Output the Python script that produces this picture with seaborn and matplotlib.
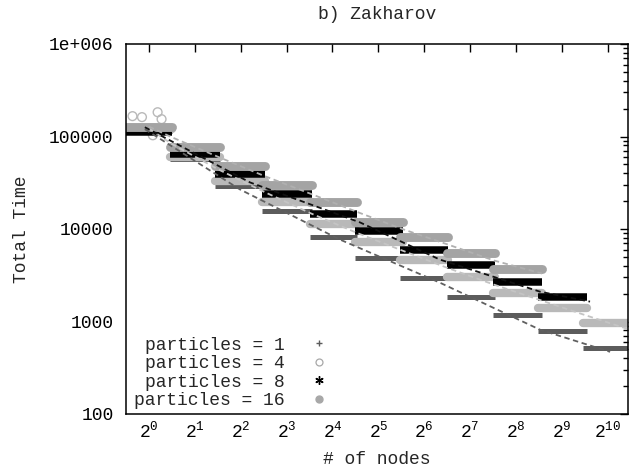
import matplotlib
matplotlib.use("Agg")
import matplotlib.pyplot as plt
import seaborn as sns
import pandas as pd
from matplotlib.lines import Line2D
from matplotlib.ticker import FixedLocator, FixedFormatter, LogLocator, NullFormatter, NullLocator

# bornes (en noeuds) de chaque palier
seg_start = [0.68, 1.37, 2.71, 5.51, 11.4, 22.5, 44.3, 90.3, 181, 357, 704]
seg_end = [1.41, 2.92, 5.76, 11.7, 23.2, 46.4, 91.6, 186, 379, 750, 1430]

# temps total par palier
time_p1 = [114000, 56700, 28900, 15500, 8290, 4900, 2980, 1855, 1180, 794, 519]
time_p4 = [120000, 59600, 32700, 19400, 11200, 7320, 4670, 3050, 2050, 1410, 968]
time_p8 = [113000, 64300, 39000, 23700, 14700, 9400, 6000, 4120, 2700, 1855]
time_p16 = [128000, 76400, 47600, 29700, 19400, 12050, 8290, 5560, 3730]

# quelques points isoles (particles = 4) au debut
out_p4_x = [0.78, 0.90, 1.14, 1.06, 1.21]
out_p4_y = [166000, 162000, 183000, 103000, 154000]

# courbes d'ajustement (pointilles)
fit_p1_x = [0.94, 3.95, 17.9, 81, 368, 1060]
fit_p1_y = [120000, 26800, 7690, 2630, 815, 470]
fit_p4_x = [1.0, 1.39, 2.84, 5.7, 11.6, 23.2, 45.9, 91.5, 184, 370, 730, 1430]
fit_p4_y = [122000, 84500, 44200, 25200, 14700, 9060, 5850, 3780, 2500, 1700, 1170, 815]
fit_p8_x = [0.94, 4.6, 24.2, 81, 368, 783]
fit_p8_y = [126000, 31900, 11800, 4670, 2100, 1640]
fit_p16_x = [1.0, 1.39, 2.84, 5.7, 11.6, 23.2, 45.9, 91.5, 184, 379]
fit_p16_y = [128000, 99300, 60300, 37500, 23900, 15300, 10000, 6790, 4560, 3300]

labels = ["particles = 1", "particles = 4", "particles = 8", "particles = 16"]
xtick_exp = list(range(0, 11))
ytick_vals = [100, 1000, 10000, 100000, 1000000]
ytick_labels = ["100", "1000", "10000", "100000", "1e+006"]

sns.set_style("white")
plt.rcParams['font.family'] = ['Liberation Mono', 'DejaVu Sans Mono']
plt.rcParams['mathtext.fontset'] = 'custom'
plt.rcParams['mathtext.rm'] = 'Liberation Mono'
plt.rcParams['mathtext.it'] = 'Liberation Mono'

fs = 13


def steps(levels):
    rows = []
    for i, t in enumerate(levels):
        rows.append({'nodes': seg_start[i], 'time': t, 'seg': i})
        rows.append({'nodes': seg_end[i], 'time': t, 'seg': i})
    return pd.DataFrame(rows)


fig = plt.figure(figsize=(6.38, 4.75), dpi=100)
ax = fig.add_axes([126 / 638, 1 - 414 / 475, 502 / 638, 370 / 475])
ax.set_xscale('log', base=2)
ax.set_yscale('log')

c1, c4, c8, c16 = '#5c5c5c', '#b9b9b9', '#000000', '#a4a4a4'

# paliers
sns.lineplot(data=steps(time_p1), x='nodes', y='time', units='seg', estimator=None,
             sort=False, color=c1, lw=3.6, solid_capstyle='butt', ax=ax)
sns.lineplot(data=steps(time_p4), x='nodes', y='time', units='seg', estimator=None,
             sort=False, color=c4, lw=6.0, solid_capstyle='round', ax=ax)
sns.scatterplot(x=out_p4_x, y=out_p4_y, marker='o', s=40, facecolor='none',
                edgecolor=c4, linewidth=1.0, ax=ax)
sns.lineplot(data=steps(time_p8), x='nodes', y='time', units='seg', estimator=None,
             sort=False, color=c8, lw=5.4, solid_capstyle='butt', ax=ax)
sns.lineplot(data=steps(time_p16), x='nodes', y='time', units='seg', estimator=None,
             sort=False, color=c16, lw=6.4, solid_capstyle='round', ax=ax)

# ajustements
dash = (0, (3, 2))
sns.lineplot(x=fit_p1_x, y=fit_p1_y, color='#606060', lw=1.3, linestyle=dash, ax=ax)
sns.lineplot(x=fit_p4_x, y=fit_p4_y, color='#c4c4c4', lw=1.3, linestyle=dash, ax=ax)
sns.lineplot(x=fit_p16_x, y=fit_p16_y, color='#b0b0b0', lw=1.3, linestyle=dash, ax=ax)
sns.lineplot(x=fit_p8_x, y=fit_p8_y, color='#111111', lw=1.3, linestyle=dash, ax=ax)

ax.set_xlim(2 ** -0.5, 2 ** 10.44)
ax.set_ylim(100, 1000000)

ax.xaxis.set_major_locator(FixedLocator([2 ** k for k in xtick_exp]))
ax.xaxis.set_major_formatter(FixedFormatter([f"$2^{{{k}}}$" for k in xtick_exp]))
ax.xaxis.set_minor_locator(NullLocator())
ax.yaxis.set_major_locator(FixedLocator(ytick_vals))
ax.yaxis.set_major_formatter(FixedFormatter(ytick_labels))
ax.yaxis.set_minor_locator(LogLocator(base=10, subs=range(2, 10)))
ax.yaxis.set_minor_formatter(NullFormatter())

ax.tick_params(which='both', direction='in', top=True, right=True, colors='black', width=1.0)
ax.tick_params(axis='both', which='major', labelsize=fs, length=6)
ax.tick_params(which='minor', length=3.5)
ax.tick_params(axis='y', pad=9)
ax.tick_params(axis='x', pad=5)
for sp in ax.spines.values():
    sp.set_color('black')
    sp.set_linewidth(1.1)

ax.set_xlabel('# of nodes', fontsize=fs, labelpad=7)
ax.set_ylabel('Total Time', fontsize=fs, labelpad=14)
ax.set_title('b) Zakharov', fontsize=fs, pad=18)

handles = [
    Line2D([], [], ls='none', marker='+', color=c1, ms=5, mew=1.0),
    Line2D([], [], ls='none', marker='o', mfc='none', mec='#a8a8a8', ms=5, mew=0.9),
    Line2D([], [], ls='none', marker=(6, 2, 0), color='black', ms=6, mew=1.0),
    Line2D([], [], ls='none', marker='o', color='#a8a8a8', ms=5),
]
ax.legend(handles, labels, loc='lower right', bbox_to_anchor=(328 / 638, 66 / 475),
          bbox_transform=fig.transFigure, frameon=False, markerfirst=False,
          fontsize=fs, handlelength=1.0, handletextpad=1.4, labelspacing=0.08,
          borderpad=0, borderaxespad=0)

fig.savefig('out.png', dpi=100)
